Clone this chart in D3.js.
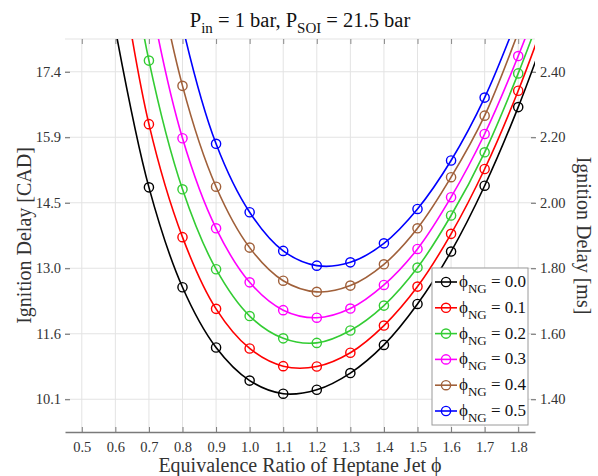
<!DOCTYPE html>
<html><head><meta charset="utf-8">
<script src="https://cdn.jsdelivr.net/npm/d3@7"></script>
<style>
html,body{margin:0;padding:0;background:#fff;}
svg{display:block;font-family:"Liberation Serif","Times New Roman",serif;}
</style></head>
<body>
<svg id="chart" width="598" height="476"></svg>
<script>
// ---- data ----
const phiJet = [0.6,0.7,0.8,0.9,1.0,1.1,1.2,1.3,1.4,1.5,1.6,1.7,1.8,1.9];
const seriesNames = ["0.0","0.1","0.2","0.3","0.4","0.5"];
const seriesColors = ["#000000","#ff0000","#33cc33","#ff00ff","#a0603a","#0000ff"];
const delay00 = [2.53,2.047,1.742,1.558,1.457,1.417,1.429,1.480,1.566,1.691,1.851,2.052,2.292,2.57];
const delay01 = [2.82,2.240,1.895,1.676,1.555,1.501,1.500,1.542,1.625,1.744,1.905,2.103,2.342,2.62];
const delay02 = [3.05,2.434,2.041,1.797,1.654,1.586,1.572,1.610,1.686,1.802,1.961,2.154,2.395,2.67];
const delay03 = [3.35,2.65,2.197,1.922,1.757,1.672,1.649,1.677,1.749,1.859,2.017,2.210,2.448,2.72];
const delay04 = [3.66,2.86,2.357,2.049,1.863,1.762,1.728,1.747,1.812,1.922,2.078,2.266,2.52,2.80];
const delay05 = [4.0,3.1,2.54,2.180,1.971,1.853,1.808,1.818,1.876,1.981,2.129,2.321,2.57,2.85];
const xTicks = [0.5,0.6,0.7,0.8,0.9,1.0,1.1,1.2,1.3,1.4,1.5,1.6,1.7,1.8];
const msTicks = [1.4,1.6,1.8,2.0,2.2,2.4];
const cadTickLabels = ["10.1","11.6","13.0","14.5","15.9","17.4"];
const msTickLabels = ["1.40","1.60","1.80","2.00","2.20","2.40"];

const allSeries = [delay00,delay01,delay02,delay03,delay04,delay05];

// ---- layout ----
const L=65, R=535, T=39, B=432;
const svg = d3.select("#chart");
const x = d3.scaleLinear().domain([0.45,1.85]).range([L,R]);
const y = d3.scaleLinear().domain([1.3,2.5]).range([B,T]);

svg.append("defs").append("clipPath").attr("id","clip")
  .append("rect").attr("x",L).attr("y",T).attr("width",R-L).attr("height",B-T);

// grid
const grid = svg.append("g").attr("stroke","#e3e3e3").attr("stroke-width",1);
grid.selectAll(".vg").data(xTicks).join("line")
  .attr("x1",d=>x(d)).attr("x2",d=>x(d)).attr("y1",T).attr("y2",B);
grid.selectAll(".hg").data(msTicks).join("line")
  .attr("x1",L).attr("x2",R).attr("y1",d=>y(d)).attr("y2",d=>y(d));
grid.append("line").attr("x1",L).attr("x2",R).attr("y1",T).attr("y2",T);

// bottom axis
const xAxis = d3.axisBottom(x).tickValues(xTicks).tickFormat(d3.format(".1f")).tickSizeInner(-5).tickSizeOuter(0).tickPadding(10);
const gx = svg.append("g").attr("transform",`translate(0,${B})`).call(xAxis);
gx.select(".domain").attr("stroke","#7a7a7a").attr("stroke-width",1.3);
gx.selectAll(".tick line").attr("stroke","#7a7a7a");
gx.selectAll("text").attr("font-family","Liberation Serif").attr("font-size",14.5).attr("fill","#333");
// top ticks
const xTop = d3.axisTop(x).tickValues(xTicks).tickFormat("").tickSizeInner(-5).tickSizeOuter(0);
const gt = svg.append("g").attr("transform",`translate(0,${T})`).call(xTop);
gt.select(".domain").remove();
gt.selectAll(".tick line").attr("stroke","#8a8a8a");

// left axis (CAD labels)
const yLeft = d3.axisLeft(y).tickValues(msTicks).tickFormat((d,i)=>cadTickLabels[i]).tickSize(5).tickPadding(4);
const gl = svg.append("g").attr("transform",`translate(${L+5},0)`).call(yLeft);
gl.select(".domain").remove();
gl.selectAll(".tick line").attr("stroke","#666");
gl.selectAll("text").attr("font-family","Liberation Serif").attr("font-size",14.5).attr("fill","#333");

// right axis (ms)
const yRight = d3.axisRight(y).tickValues(msTicks).tickFormat((d,i)=>msTickLabels[i]).tickSize(5).tickPadding(4);
const gr = svg.append("g").attr("transform",`translate(${R-4},0)`).call(yRight);
gr.select(".domain").remove();
gr.selectAll(".tick line").attr("stroke","#666");
gr.selectAll("text").attr("font-family","Liberation Serif").attr("font-size",14.5).attr("fill","#333");

// series
const line = d3.line().x(d=>x(d[0])).y(d=>y(d[1])).curve(d3.curveCatmullRom.alpha(0.5));
const plot = svg.append("g").attr("clip-path","url(#clip)");
allSeries.forEach((vals,i)=>{
  const pts = phiJet.map((p,j)=>[p,vals[j]]);
  plot.append("path").datum(pts).attr("d",line).attr("fill","none")
    .attr("stroke",seriesColors[i]).attr("stroke-width",1.6);
  plot.selectAll(null).data(pts.filter(d=>d[1]<=2.5 && d[0]<=1.85)).join("circle")
    .attr("cx",d=>x(d[0])).attr("cy",d=>y(d[1])).attr("r",4.6)
    .attr("fill","none").attr("stroke",seriesColors[i]).attr("stroke-width",1.4);
});

// legend
const lg = svg.append("g");
lg.append("rect").attr("x",432).attr("y",268).attr("width",96).attr("height",157)
  .attr("fill","#fff").attr("stroke","#9a9a9a").attr("stroke-width",1);
seriesNames.forEach((n,i)=>{
  const cy = 282 + i*25.8;
  lg.append("line").attr("x1",435).attr("x2",457).attr("y1",cy).attr("y2",cy)
    .attr("stroke",seriesColors[i]).attr("stroke-width",1.6);
  lg.append("circle").attr("cx",446).attr("cy",cy).attr("r",4.6).attr("fill","none")
    .attr("stroke",seriesColors[i]).attr("stroke-width",1.4);
  const t = lg.append("text").attr("x",459).attr("y",cy+5).attr("font-size",17).attr("fill","#111");
  t.append("tspan").text("ϕ");
  t.append("tspan").attr("font-size",13).attr("dy",6).text("NG");
  t.append("tspan").attr("dy",-6).text(" = " + n);
});

// title
const title = svg.append("text").attr("x",300).attr("y",27).attr("text-anchor","middle")
  .attr("font-size",20.5).attr("fill","#111");
title.append("tspan").text("P");
title.append("tspan").attr("font-size",15).attr("dy",6).text("in");
title.append("tspan").attr("dy",-6).text(" = 1 bar, P");
title.append("tspan").attr("font-size",15).attr("dy",6).text("SOI");
title.append("tspan").attr("dy",-6).text(" = 21.5 bar");

// axis labels
svg.append("text").attr("x",300).attr("y",472).attr("text-anchor","middle")
  .attr("font-size",20).attr("fill","#333").text("Equivalence Ratio of Heptane Jet ϕ");
svg.append("text").attr("transform",`translate(31,${(T+B)/2}) rotate(-90)`).attr("text-anchor","middle")
  .attr("font-size",20).attr("fill","#333").text("Ignition Delay [CAD]");
svg.append("text").attr("transform",`translate(577,${(T+B)/2}) rotate(90)`).attr("text-anchor","middle")
  .attr("font-size",20).attr("fill","#333").text("Ignition Delay [ms]");
</script>
</body></html>
